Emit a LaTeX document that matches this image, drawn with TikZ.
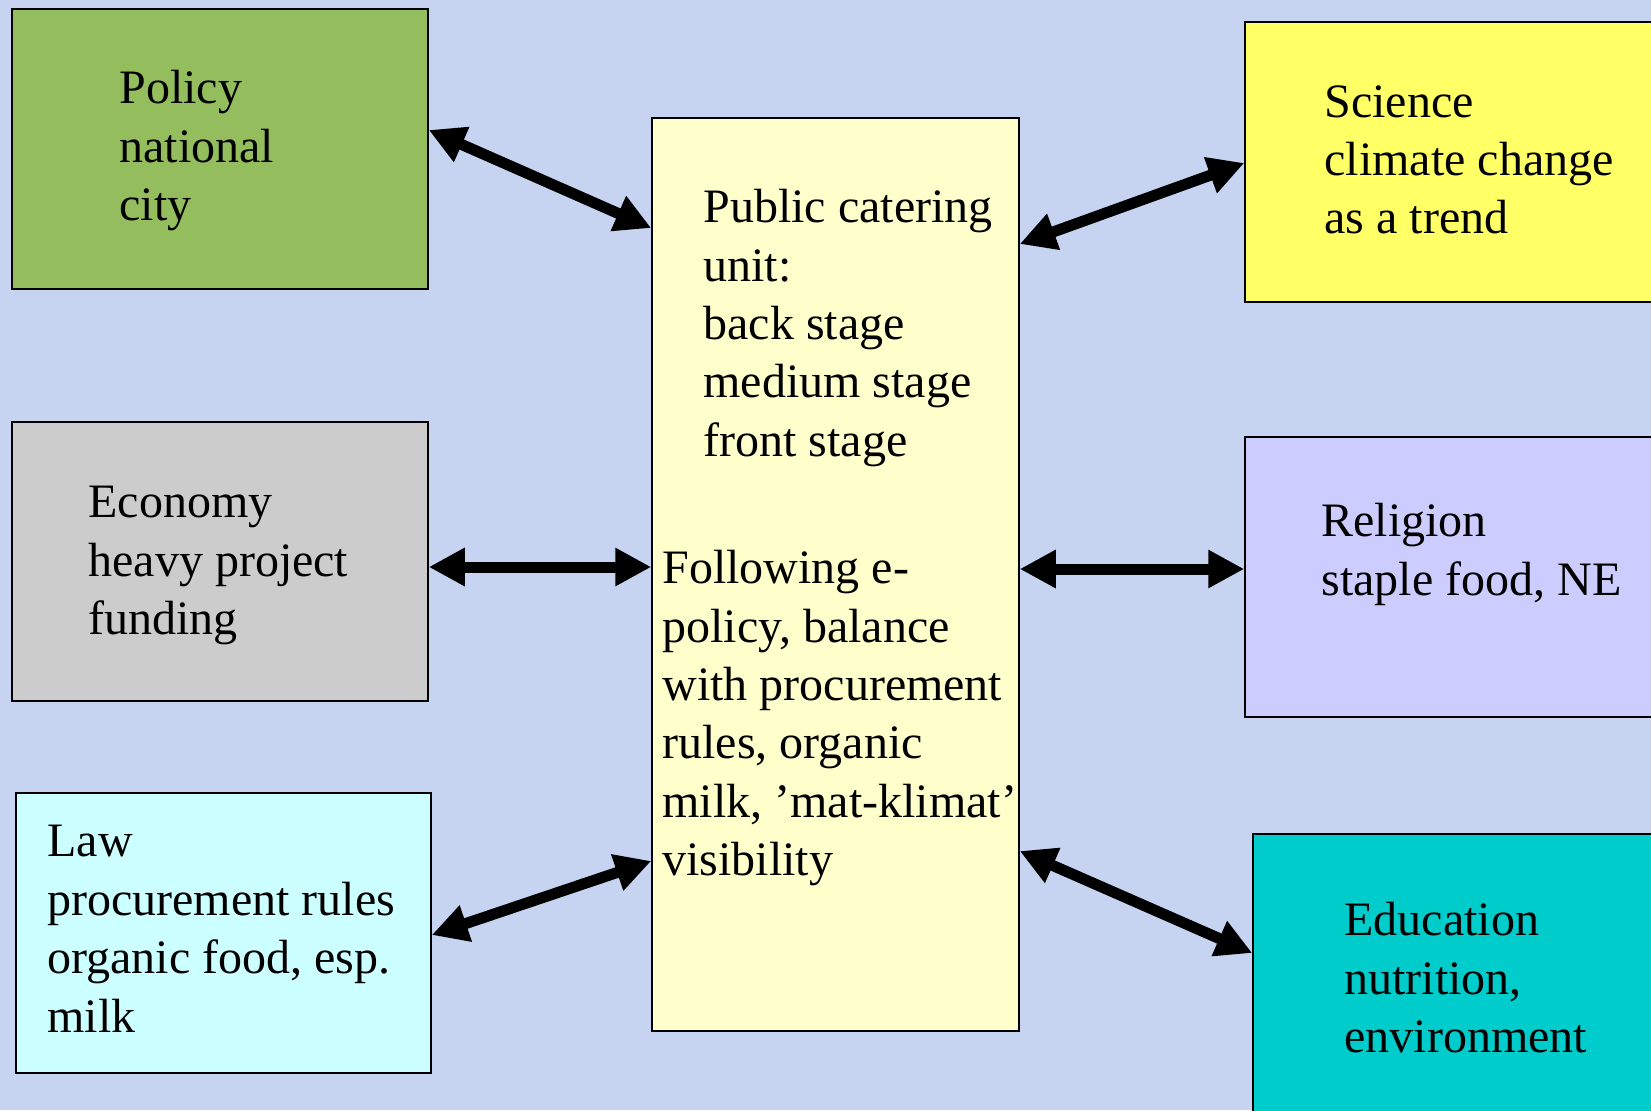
\documentclass[tikz,border=0pt]{standalone}
\usepackage{fontspec}
\setmainfont{Liberation Serif}
\usetikzlibrary{arrows.meta}
\definecolor{bgblue}{RGB}{198,212,242}
\definecolor{policygreen}{RGB}{148,189,94}
\definecolor{econgrey}{RGB}{204,204,204}
\definecolor{lawcyan}{RGB}{204,255,255}
\definecolor{unitcream}{RGB}{255,255,204}
\definecolor{sciyellow}{RGB}{255,255,102}
\definecolor{rellavender}{RGB}{204,204,255}
\definecolor{eduteal}{RGB}{0,204,204}

\begin{document}
\begin{tikzpicture}[
      x=0.5pt, y=-0.5pt,
      box/.style={rectangle, draw, line width=0.75pt, inner sep=0pt},
      txt/.style={anchor=north west, align=left, inner sep=0pt,
        font=\fontsize{24}{29.2}\selectfont},
      link/.style={{Triangle[length=18pt,width=18pt]}-{Triangle[length=18pt,width=18pt]},
        line width=5.5pt},
    ]
    \clip (0,0) rectangle (1651,1110);
    \fill[bgblue] (0,0) rectangle (1651,1110);

    \node[box, fill=policygreen, minimum width=208pt, minimum height=140pt] (policy) at (220,149) {};
    \node[box, fill=econgrey, minimum width=208pt, minimum height=139.5pt] (economy) at (220,561.5) {};
    \node[box, fill=lawcyan, minimum width=207.5pt, minimum height=140pt] (law) at (223.5,933) {};
    \node[box, fill=unitcream, minimum width=183.5pt, minimum height=456.5pt] (unit) at (835.5,574.5) {};
    \node[box, fill=sciyellow, minimum width=210pt, minimum height=140pt] (science) at (1455,162) {};
    \node[box, fill=rellavender, minimum width=210pt, minimum height=140pt] (religion) at (1455,577) {};
    \node[box, fill=eduteal, minimum width=206pt, minimum height=145.5pt] (education) at (1459,979.5) {};

    \node[txt] (policytext) at (119,70) {Policy\\national\\city};
    \node[txt] (economytext) at (88,486) {Economy\\heavy project\\funding};
    \node[txt] (lawtext) at (47,825) {Law\\procurement rules\\organic food, esp.\\milk};
    \node[txt] (unittext) at (703,189) {Public catering\\unit:\\back stage\\medium stage\\front stage};
    \node[txt] (followtext) at (662,550) {Following e-\\policy, balance\\with procurement\\rules, organic\\milk, ’mat-klimat’\\visibility};
    \node[txt] (sciencetext) at (1324,85) {Science\\climate change\\as a trend};
    \node[txt] (religiontext) at (1321,503) {Religion\\staple food, NE};
    \node[txt] (educationtext) at (1344,902) {Education\\nutrition,\\environment};

    \draw[link] ([yshift=9.5pt]policy.east) -- ([yshift=173.25pt]unit.west);
    \draw[link] ([yshift=-2.75pt]economy.east) -- ([yshift=3.75pt]unit.west);
    \draw[link] ([yshift=-1pt]law.east) -- ([yshift=-143.25pt]unit.west);
    \draw[link] ([yshift=165.25pt]unit.east) -- ([yshift=-0.5pt]science.west);
    \draw[link] ([yshift=2.75pt]unit.east) -- ([yshift=4pt]religion.west);
    \draw[link] ([yshift=-138.25pt]unit.east) -- ([yshift=13.25pt]education.west);
\end{tikzpicture}
\end{document}
